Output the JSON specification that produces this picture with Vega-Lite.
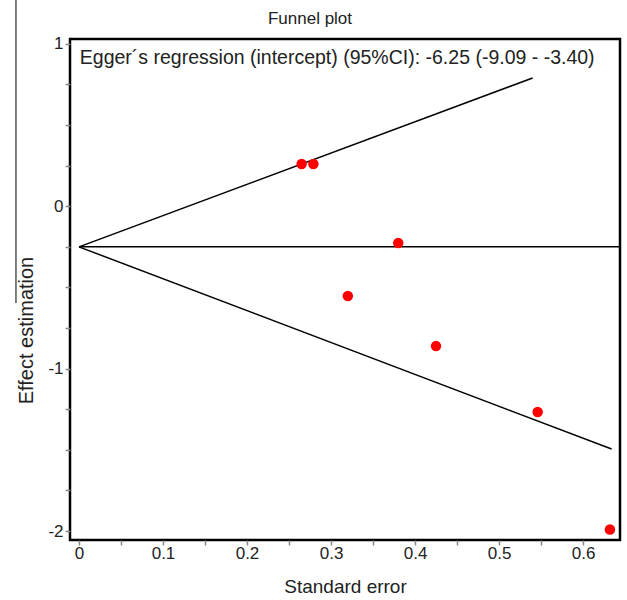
{
  "$schema": "https://vega.github.io/schema/vega-lite/v6.json",
  "autosize": {"type": "none"},
  "width": 550,
  "height": 501,
  "padding": {"left": 70, "top": 39, "right": 7, "bottom": 60},
  "background": "white",
  "config": {
    "font": "Liberation Sans",
    "view": {"stroke": "black", "strokeWidth": 2.5},
    "axis": {"domain": false, "grid": false, "labelFontSize": 17, "labelColor": "#222", "titleFontSize": 19, "titleFontWeight": "normal", "titleColor": "#222", "tickColor": "#888", "tickSize": 5, "tickWidth": 1.5}
  },
  "title": {"text": "Funnel plot", "fontSize": 17, "fontWeight": "normal", "color": "#222", "dx": -35, "offset": -41, "baseline": "alphabetic"},
  "datasets": {
    "studies": [
      {"se": 0.265, "es": 0.26},
      {"se": 0.279, "es": 0.26},
      {"se": 0.380, "es": -0.226},
      {"se": 0.320, "es": -0.553},
      {"se": 0.425, "es": -0.861},
      {"se": 0.546, "es": -1.267},
      {"se": 0.632, "es": -1.99}
    ],
    "funnel": [
      {"line": "upper", "se": 0, "es": -0.25},
      {"line": "upper", "se": 0.540, "es": 0.79},
      {"line": "lower", "se": 0, "es": -0.25},
      {"line": "lower", "se": 0.634, "es": -1.495},
      {"line": "mid", "se": 0, "es": -0.25},
      {"line": "mid", "se": 0.644, "es": -0.25}
    ],
    "note": [
      {"se": 0.001, "es": 0.914, "label": "Egger´s regression (intercept) (95%CI): -6.25 (-9.09 - -3.40)"}
    ],
    "edge": [
      {"se": -0.075, "top": 1.27, "bottom": -0.596}
    ]
  },
  "layer": [
    {
      "data": {"name": "funnel"},
      "mark": {"type": "line", "color": "black", "strokeWidth": 1.5},
      "encoding": {
        "x": {"field": "se", "type": "quantitative", "scale": {"domain": [-0.0107, 0.644], "nice": false, "zero": false},
          "axis": {"title": "Standard error", "values": [0, 0.05, 0.1, 0.15, 0.2, 0.25, 0.3, 0.35, 0.4, 0.45, 0.5, 0.55, 0.6],
            "labelExpr": "round(datum.value*20) % 2 == 0 ? '' + round(datum.value*10)/10 : ''", "labelPadding": 0, "labelFlush": false, "titleY": 52, "titleBaseline": "alphabetic"}},
        "y": {"field": "es", "type": "quantitative", "scale": {"domain": [-2.055, 1.03], "nice": false, "zero": false},
          "axis": {"title": "Effect estimation", "titleFontSize": 20, "values": [-2, -1.75, -1.5, -1.25, -1, -0.75, -0.5, -0.25, 0, 0.25, 0.5, 0.75, 1],
            "labelExpr": "round(datum.value*4) % 4 == 0 ? '' + datum.value : ''", "labelPadding": 2, "labelFlush": false, "titleX": -38, "titleY": 291, "titleBaseline": "alphabetic"}},
        "detail": {"field": "line"}
      }
    },
    {
      "data": {"name": "edge"},
      "mark": {"type": "rule", "color": "black", "strokeWidth": 1, "clip": false},
      "encoding": {
        "x": {"field": "se", "type": "quantitative"},
        "y": {"field": "top", "type": "quantitative"},
        "y2": {"field": "bottom"}
      }
    },
    {
      "data": {"name": "studies"},
      "mark": {"type": "point", "shape": "circle", "filled": true, "color": "#ff0000", "size": 110, "opacity": 1},
      "encoding": {
        "x": {"field": "se", "type": "quantitative"},
        "y": {"field": "es", "type": "quantitative"}
      }
    },
    {
      "data": {"name": "note"},
      "mark": {"type": "text", "align": "left", "baseline": "middle", "fontSize": 19.5, "color": "#222"},
      "encoding": {
        "x": {"field": "se", "type": "quantitative"},
        "y": {"field": "es", "type": "quantitative"},
        "text": {"field": "label"}
      }
    }
  ]
}
